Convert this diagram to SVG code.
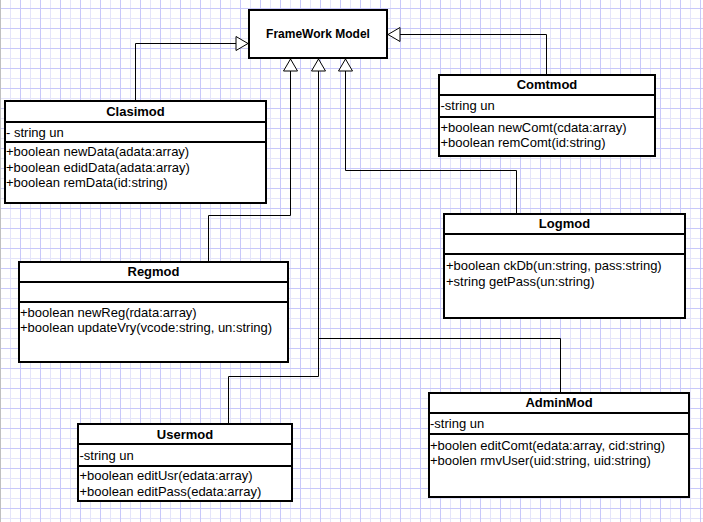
<svg xmlns="http://www.w3.org/2000/svg" width="703" height="522" viewBox="0 0 703 522">
<defs>
<pattern id="grid" patternUnits="userSpaceOnUse" x="0" y="8" width="20" height="20">
<rect x="0" y="0" width="20" height="20" fill="#ffffff"/>
<rect x="10" y="0" width="1" height="20" fill="#e4e4fa"/>
<rect x="0" y="10" width="20" height="1" fill="#e4e4fa"/>
<rect x="0" y="0" width="1" height="20" fill="#c8c8fa"/>
<rect x="0" y="0" width="20" height="1" fill="#c8c8fa"/>
</pattern>
<marker id="tri" markerUnits="userSpaceOnUse" markerWidth="16" markerHeight="18" viewBox="-2 -2 16 18" refX="12" refY="7" orient="auto">
<path d="M0,0 L12,7 L0,14 Z" fill="#ffffff" stroke="#000000" stroke-width="1"/>
</marker>
<style>
.box{fill:#ffffff;stroke:#000000;stroke-width:2}
.sep{stroke:#000000;stroke-width:2}
.title{font-family:"Liberation Sans",Arial,sans-serif;font-size:13px;font-weight:bold;fill:#000000;text-anchor:middle}
.main{font-family:"Liberation Sans",Arial,sans-serif;font-size:12px;font-weight:bold;fill:#000000;text-anchor:middle}
.txt{font-family:"Liberation Sans",Arial,sans-serif;font-size:13px;fill:#000000}
.conn{fill:none;stroke:#000000;stroke-width:1}
</style>
</defs>
<rect x="0" y="0" width="703" height="522" fill="url(#grid)"/>
<rect x="0" y="0" width="1" height="522" fill="#c0c0c0"/>

<g id="connectors">
<path class="conn" d="M135.5,100 V43.5 H248" marker-end="url(#tri)"/>
<path class="conn" d="M546.5,74 V34.5 H388" marker-end="url(#tri)"/>
<path class="conn" d="M208.5,261 V215.5 H290.5 V59" marker-end="url(#tri)"/>
<path class="conn" d="M228.5,423 V376.5 H318.5 V59" marker-end="url(#tri)"/>
<path class="conn" d="M560.5,392 V338.5 H318.5"/>
<path class="conn" d="M516.5,213 V170.5 H345.5 V59" marker-end="url(#tri)"/>
</g>

<g id="framework">
<rect class="box" x="249" y="10" width="138" height="48"/>
<text class="main" x="318" y="38">FrameWork Model</text>
</g>

<g id="clasimod">
<rect class="box" x="5" y="101" width="261" height="102"/>
<line class="sep" x1="5" y1="122" x2="266" y2="122"/>
<line class="sep" x1="5" y1="142" x2="266" y2="142"/>
<text class="title" x="135.5" y="116">Clasimod</text>
<text class="txt" x="6" y="136.5">- string un</text>
<text class="txt" x="6" y="155.5">+boolean newData(adata:array)</text>
<text class="txt" x="6" y="171.5">+boolean edidData(adata:array)</text>
<text class="txt" x="6" y="187">+boolean remData(id:string)</text>
</g>

<g id="comtmod">
<rect class="box" x="439" y="75" width="216" height="81"/>
<line class="sep" x1="439" y1="95" x2="655" y2="95"/>
<line class="sep" x1="439" y1="117" x2="655" y2="117"/>
<text class="title" x="547" y="88.5">Comtmod</text>
<text class="txt" x="440.5" y="110">-string un</text>
<text class="txt" x="440.5" y="131.5">+boolean newComt(cdata:array)</text>
<text class="txt" x="440.5" y="147">+boolean remComt(id:string)</text>
</g>

<g id="logmod">
<rect class="box" x="444" y="214" width="241" height="104"/>
<line class="sep" x1="444" y1="234" x2="685" y2="234"/>
<line class="sep" x1="444" y1="254" x2="685" y2="254"/>
<text class="title" x="564.5" y="228">Logmod</text>
<text class="txt" x="446" y="270">+boolean ckDb(un:string, pass:string)</text>
<text class="txt" x="446" y="285.5">+string getPass(un:string)</text>
</g>

<g id="regmod">
<rect class="box" x="19" y="262" width="269" height="100"/>
<line class="sep" x1="19" y1="282" x2="288" y2="282"/>
<line class="sep" x1="19" y1="302" x2="288" y2="302"/>
<text class="title" x="153.5" y="276">Regmod</text>
<text class="txt" x="20" y="316.5">+boolean newReg(rdata:array)</text>
<text class="txt" x="20" y="332">+boolean updateVry(vcode:string, un:string)</text>
</g>

<g id="usermod">
<rect class="box" x="78" y="424" width="214" height="77"/>
<line class="sep" x1="78" y1="444" x2="292" y2="444"/>
<line class="sep" x1="78" y1="466" x2="292" y2="466"/>
<text class="title" x="185" y="438.5">Usermod</text>
<text class="txt" x="79.5" y="459.5">-string un</text>
<text class="txt" x="79.5" y="480">+boolean editUsr(edata:array)</text>
<text class="txt" x="79.5" y="496">+boolean editPass(edata:array)</text>
</g>

<g id="adminmod">
<rect class="box" x="429" y="393" width="260" height="104"/>
<line class="sep" x1="429" y1="413" x2="689" y2="413"/>
<line class="sep" x1="429" y1="434" x2="689" y2="434"/>
<text class="title" x="559" y="407">AdminMod</text>
<text class="txt" x="430" y="428">-string un</text>
<text class="txt" x="430" y="449.5">+boolen editComt(edata:array, cid:string)</text>
<text class="txt" x="430" y="464.5">+boolen rmvUser(uid:string, uid:string)</text>
</g>
</svg>
